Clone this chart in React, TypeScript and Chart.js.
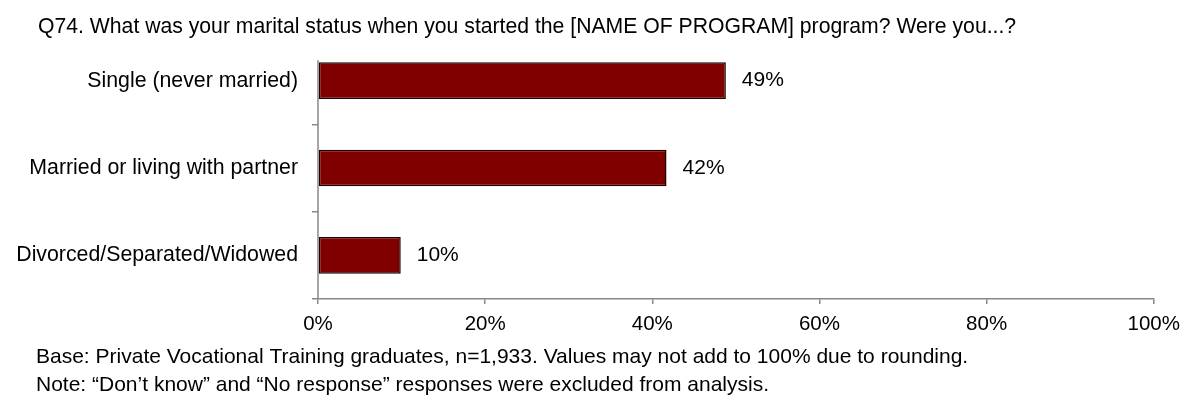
import React, { useEffect, useRef } from "react";
import { Chart, registerables } from "chart.js";

Chart.register(...registerables);

const categories = ["Single (never married)", "Married or living with partner", "Divorced/Separated/Widowed"];
const values = [48.8, 41.7, 9.9];
const xTicks = [0, 20, 40, 60, 80, 100];
const titleText = "Q74. What was your marital status when you started the [NAME OF PROGRAM] program? Were you...?";
const footerLines = [
  "Base: Private Vocational Training graduates, n=1,933. Values may not add to 100% due to rounding.",
  "Note: \u201CDon\u2019t know\u201D and \u201CNo response\u201D responses were excluded from analysis.",
];

const FONT = "Arial, 'Liberation Sans', sans-serif";
const AXIS = "#888888";

export default function App() {
  const ref = useRef<HTMLCanvasElement | null>(null);
  useEffect(() => {
    const canvas = ref.current;
    if (!canvas) return;
    const textPlugin = {
      id: "texts",
      afterDraw(chart: any) {
        const ctx = chart.ctx;
        const area = chart.chartArea;
        const meta = chart.getDatasetMeta(0);
        ctx.save();
        const first = meta.data[0];
        ctx.strokeStyle = AXIS;
        ctx.lineWidth = 1.5;
        ctx.beginPath();
        ctx.moveTo(area.left, first.y - first.height / 2 - 2);
        ctx.lineTo(area.left, area.bottom);
        ctx.stroke();

        ctx.fillStyle = "#000";
        ctx.textAlign = "left";
        ctx.textBaseline = "middle";
        ctx.font = `21.2px ${FONT}`;
        ctx.fillText(titleText, 38, 27);
        ctx.font = `21px ${FONT}`;
        ctx.fillText(footerLines[0], 36, 357);
        ctx.fillText(footerLines[1], 36, 385);
        meta.data.forEach((bar: any, i: number) => {
          ctx.fillText(Math.round(values[i]) + "%", bar.x + 16, bar.y);
        });
        ctx.restore();
      },
    };
    const chart = new Chart(canvas, {
      type: "bar",
      data: {
        labels: categories,
        datasets: [
          {
            data: values,
            backgroundColor: "#800000",
            borderColor: "#1a0000",
            borderWidth: 1.5,
            borderSkipped: false,
            barPercentage: 0.42,
            categoryPercentage: 1,
          },
        ],
      },
      options: {
        indexAxis: "y",
        animation: false,
        responsive: false,
        maintainAspectRatio: false,
        layout: { padding: { left: 0, right: 30, top: 37, bottom: 0 } },
        plugins: {
          legend: { display: false },
          tooltip: { enabled: false },
          title: { display: false },
        },
        scales: {
          x: {
            min: 0,
            max: 100,
            afterFit(scale: any) {
              scale.height = 106;
            },
            afterBuildTicks(scale: any) {
              scale.ticks = xTicks.map((v) => ({ value: v }));
            },
            grid: {
              drawOnChartArea: false,
              drawTicks: true,
              tickLength: 5,
              color: AXIS,
              lineWidth: 1.5,
            },
            border: { display: true, color: AXIS, width: 1.5 },
            ticks: {
              color: "#000",
              font: { family: FONT, size: 20.5 },
              padding: 8,
              maxRotation: 0,
              callback: (v: any) => v + "%",
            },
          },
          y: {
            afterFit(scale: any) {
              scale.width = 318;
            },
            grid: {
              offset: true,
              drawOnChartArea: false,
              drawTicks: true,
              tickLength: 6,
              color: (c: any) => (c.index === 0 ? "rgba(0,0,0,0)" : AXIS),
              lineWidth: 1.5,
            },
            border: { display: false },
            ticks: {
              color: "#000",
              font: { family: FONT, size: 21.3 },
              padding: 14,
            },
          },
        },
      },
      plugins: [textPlugin],
    } as any);
    return () => chart.destroy();
  }, []);
  return (
    <div style={{ position: "absolute", left: 0, top: 0, width: 1188, height: 405, background: "#fff" }}>
      <canvas ref={ref} width={1188} height={405} style={{ display: "block" }} />
    </div>
  );
}
